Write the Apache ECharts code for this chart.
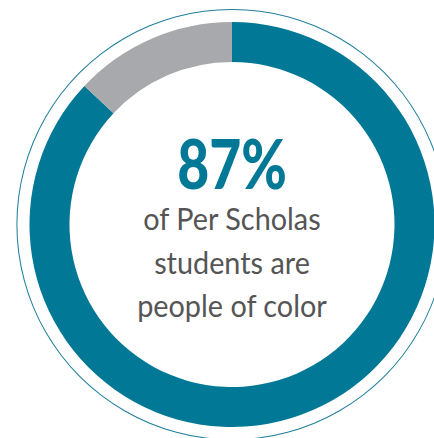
<!DOCTYPE html>
<html><head><meta charset="utf-8">
<script src="https://cdn.jsdelivr.net/npm/echarts@6/dist/echarts.min.js"></script>
<style>html,body{margin:0;padding:0;background:#fff}#c{width:434px;height:438px}</style>
</head><body><div id="c"></div>
<script>
const categories = ['People of color', 'Other'];
const values = [87, 13];
const colors = ['#007896', '#a7a9ac'];
const headline = '87%';
const captionLines = ['of Per Scholas', 'students are', 'people of color'];

const chart = echarts.init(document.getElementById('c'), null, {renderer: 'svg'});
const cx = 232, cy = 224.5;
const graphics = [
  {type: 'text', x: cx, y: 162, scaleX: 0.8, style: {text: headline, fill: '#007896', fontSize: 69, fontWeight: 900, fontFamily: 'Lato', align: 'center', verticalAlign: 'middle'}}
];
const baselines = [228, 272, 315];
captionLines.forEach((t, i) => {
  graphics.push({type: 'text', x: cx, y: baselines[i] - 10.7, scaleX: 0.93, style: {text: t, fill: '#555555', fontSize: 31, fontFamily: 'Lato', align: 'center', verticalAlign: 'middle'}});
});
chart.setOption({
  animation: false,
  series: [{
    type: 'pie',
    center: [cx, cy],
    radius: [162.5, 202.5],
    startAngle: 90,
    clockwise: true,
    label: {show: false},
    labelLine: {show: false},
    emphasis: {disabled: true},
    data: categories.map((c, i) => ({name: c, value: values[i], itemStyle: {color: colors[i]}}))
  }, {
    type: 'pie',
    center: [cx, cy],
    radius: [214.6, 215.6],
    silent: true,
    label: {show: false},
    labelLine: {show: false},
    data: [{value: 1, itemStyle: {color: '#1f7f9b'}}]
  }],
  graphic: graphics
});
</script></body></html>
